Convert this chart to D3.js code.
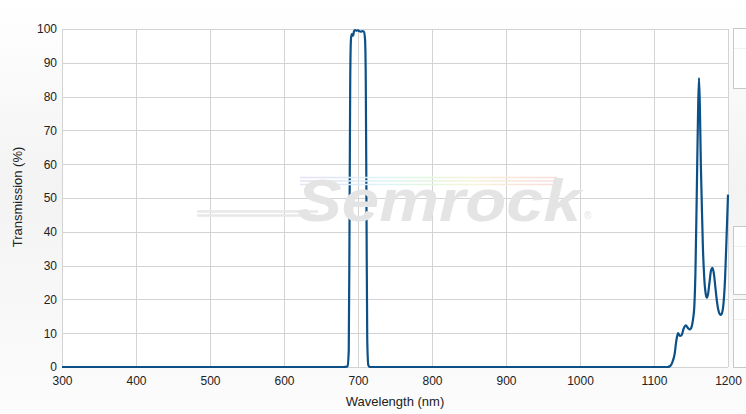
<!DOCTYPE html>
<html>
<head>
<meta charset="utf-8">
<script src="https://cdn.jsdelivr.net/npm/d3@7"></script>
<style>
  html, body { margin: 0; padding: 0; }
  body { width: 746px; height: 414px; overflow: hidden; font-family: "Liberation Sans", Arial, sans-serif; }
</style>
</head>
<body>
<script>
// spectrum
const wavelength = [300, 680, 686, 687.5, 688.5, 689.5, 690.5, 691.5, 692.5, 693.5, 694.5, 696, 698, 700, 702, 704, 706, 708, 709.5, 710.5, 711.5, 712.5, 714, 716,
  1118, 1122, 1125, 1128, 1130, 1132.5, 1135, 1137, 1140, 1143, 1146, 1148.5, 1151, 1153, 1154.5, 1156, 1157.7, 1159.5, 1160.8, 1162, 1163.3, 1164.4, 1166, 1168, 1170, 1171.5,
  1173, 1175, 1177, 1179, 1181, 1183, 1185, 1187, 1189, 1190.5, 1192, 1194, 1196, 1198, 1200];
const transmission = [0, 0, 0.2, 5, 40, 85, 97, 98.5, 98.2, 98, 99.3, 99.7, 99.5, 99.6, 99.3, 99.2, 99.4, 99.2, 97, 85, 45, 8, 0.5, 0,
  0, 0.3, 1.5, 4, 7.5, 10, 9.2, 9.3, 11.3, 12.3, 11.5, 11.1, 12, 14.5, 18, 28, 50, 75, 85.5, 77, 60, 50, 36, 26, 21.5, 20.5,
  21.5, 25, 28.5, 29.3, 27.5, 23.5, 19.5, 16.8, 15.6, 15.4, 16, 19, 26, 38, 51];
const xTicks = [300, 400, 500, 600, 700, 800, 900, 1000, 1100, 1200];
const yTicks = [0, 10, 20, 30, 40, 50, 60, 70, 80, 90, 100];

const data = wavelength.map((w, i) => ({w: w, t: transmission[i]}));

const W = 746, H = 414;
const margin = {top: 29, right: 18, bottom: 47, left: 62},
    width = W - margin.left - margin.right,
    height = H - margin.top - margin.bottom;

const root = d3.select("body").append("svg")
    .attr("width", W)
    .attr("height", H);

// page background gradient
const defs = root.append("defs");
const bg = defs.append("linearGradient").attr("id", "bg")
    .attr("x1", 0).attr("y1", 0).attr("x2", 0).attr("y2", 1);
bg.append("stop").attr("offset", "0%").attr("stop-color", "#ffffff");
bg.append("stop").attr("offset", "45%").attr("stop-color", "#f3f3f3");
bg.append("stop").attr("offset", "100%").attr("stop-color", "#fcfcfc");
const rainbow = defs.append("linearGradient").attr("id", "rainbow");
["#e8e0f4", "#dde8f8", "#def4f6", "#e4f6de", "#f6f4dc", "#f8e6da", "#f6dede"].forEach((c, i, a) =>
    rainbow.append("stop").attr("offset", (i / (a.length - 1) * 100) + "%").attr("stop-color", c));

root.append("rect").attr("width", W).attr("height", H).attr("fill", "url(#bg)");

// cut-off side panels on the right
[[28.5, 60], [226.5, 68], [299.5, 68]].forEach(b => {
    root.append("rect")
        .attr("x", 733.5).attr("y", b[0])
        .attr("width", 30).attr("height", b[1])
        .attr("fill", "#fff").attr("stroke", "#c8c8c8");
    root.append("line")
        .attr("x1", 734).attr("x2", 746)
        .attr("y1", b[0] + 20).attr("y2", b[0] + 20)
        .attr("stroke", "#f0f0f0");
});

const svg = root.append("g")
    .attr("transform", `translate(${margin.left},${margin.top})`);

const x = d3.scaleLinear().domain([300, 1200]).range([0, width]);
const y = d3.scaleLinear().domain([0, 100]).range([height, 0]);

svg.append("rect").attr("width", width).attr("height", height).attr("fill", "#fff");

// watermark
const wm = root.append("g");
wm.append("path")
    .attr("d", "M197,211.5 L318,211.5 M197,215.5 L316,215.5")
    .attr("stroke", "#e8e8e8").attr("stroke-width", 2.5).attr("fill", "none");
wm.append("path")
    .attr("d", "M300,177.5 L557,177.5 M300,181 L557,181 M300,184.5 L557,184.5")
    .attr("stroke", "url(#rainbow)").attr("stroke-width", 1.5).attr("fill", "none");
wm.append("text")
    .attr("x", 297).attr("y", 221)
    .attr("textLength", 284).attr("lengthAdjust", "spacingAndGlyphs")
    .style("font-family", "'Liberation Sans', Arial, sans-serif")
    .style("font-size", "60px").style("font-weight", "bold").style("font-style", "italic")
    .attr("fill", "#e4e4e4")
    .text("Semrock");
wm.append("text")
    .attr("x", 584).attr("y", 219)
    .style("font-size", "10px").attr("fill", "#e4e4e4")
    .text("®");

// grid
svg.append("g").selectAll("line.h").data(yTicks).enter().append("line")
    .attr("x1", 0).attr("x2", width)
    .attr("y1", d => Math.round(y(d)) + 0.5).attr("y2", d => Math.round(y(d)) + 0.5)
    .attr("stroke", "#d3d3d3");
svg.append("g").selectAll("line.v").data(xTicks).enter().append("line")
    .attr("y1", 0).attr("y2", height)
    .attr("x1", d => Math.round(x(d)) + 0.5).attr("x2", d => Math.round(x(d)) + 0.5)
    .attr("stroke", "#d3d3d3");

// axes (labels only)
const xAxis = svg.append("g")
    .attr("transform", `translate(0,${height})`)
    .call(d3.axisBottom(x).tickValues(xTicks).tickFormat(d3.format("d")).tickSize(0).tickPadding(9));
const yAxis = svg.append("g")
    .call(d3.axisLeft(y).tickValues(yTicks).tickFormat(d3.format("d")).tickSize(0).tickPadding(5));
[xAxis, yAxis].forEach(a => {
    a.select(".domain").remove();
    a.selectAll("text")
        .style("font-family", "'Liberation Sans', Arial, sans-serif")
        .style("font-size", "12px")
        .attr("fill", "#222");
});

// curve
svg.append("path")
    .datum(data)
    .attr("fill", "none")
    .attr("stroke", "#0c5088")
    .attr("stroke-width", 2.2)
    .attr("stroke-linejoin", "round")
    .attr("d", d3.line()
        .x(d => x(d.w))
        .y(d => y(d.t))
        .curve(d3.curveMonotoneX));

// Add X axis label
svg.append("text")
    .attr("text-anchor", "middle")
    .attr("x", 395 - margin.left)
    .attr("y", height + 39)
    .style("font-size", "13px")
    .attr("fill", "#222")
    .text("Wavelength (nm)");

// Add Y axis label
svg.append("text")
    .attr("text-anchor", "middle")
    .attr("transform", "rotate(-90)")
    .attr("y", 22 - margin.left)
    .attr("x", -(197 - margin.top))
    .style("font-size", "13px")
    .attr("fill", "#222")
    .text("Transmission (%)");
</script>
</body>
</html>
